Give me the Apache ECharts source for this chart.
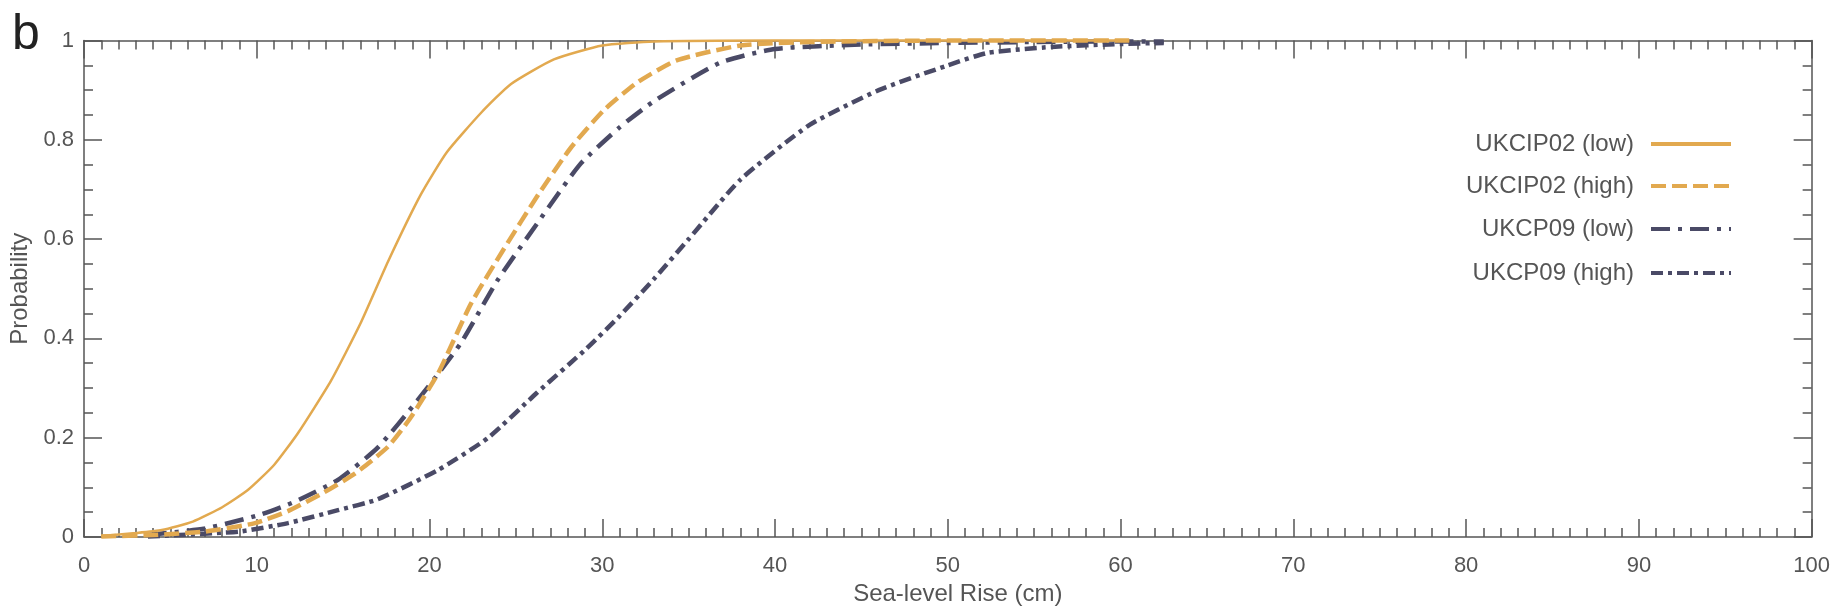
<!DOCTYPE html>
<html>
<head>
<meta charset="utf-8">
<script src="https://cdn.jsdelivr.net/npm/echarts@6/dist/echarts.min.js"></script>
<style>
html,body{margin:0;padding:0;background:#fff;}
#chart{width:1833px;height:612px;}
</style>
</head>
<body>
<div id="chart"></div>
<script>
// Sea-level rise (cm) vs cumulative probability
var ukcip02Low = [[1,0.002],[3,0.008],[4.5,0.014],[6.3,0.031],[8,0.06],[9.5,0.095],[11,0.145],[12.4,0.21],[14.3,0.315],[16,0.43],[17.6,0.555],[19.5,0.69],[21,0.775],[23,0.855],[24.7,0.912],[27.2,0.962],[30,0.99],[33,0.998],[40,1],[50,1],[60.5,1]];
var ukcip02High = [[1,0.001],[4,0.004],[7,0.011],[9.9,0.028],[11.8,0.052],[13.8,0.088],[15.7,0.128],[17.6,0.182],[18.9,0.24],[20.5,0.33],[22.4,0.47],[24.3,0.58],[26.3,0.69],[28.2,0.785],[30.1,0.86],[32,0.915],[34.3,0.96],[38,0.99],[42,0.997],[50,1],[60.5,1]];
var ukcp09Low = [[3.7,0.004],[7,0.017],[10.1,0.044],[12.2,0.071],[14.7,0.115],[17,0.18],[19.3,0.275],[21.8,0.39],[23.9,0.515],[26.2,0.63],[28.7,0.75],[31,0.825],[33,0.878],[36.8,0.955],[40,0.983],[45,0.992],[50,0.995],[55,0.997],[60,0.998],[62.5,0.998]];
var ukcp09High = [[3.7,0.001],[9,0.011],[11.8,0.028],[14.7,0.054],[17,0.076],[20.5,0.135],[23.4,0.2],[26.2,0.29],[29.1,0.38],[31,0.445],[33,0.52],[35,0.6],[38,0.72],[42,0.83],[46,0.9],[50,0.95],[52.3,0.975],[56,0.987],[60,0.993],[62.5,0.995]];
var seriesNames = ['UKCIP02 (low)','UKCIP02 (high)','UKCP09 (low)','UKCP09 (high)'];
var xTitle = 'Sea-level Rise (cm)';
var yTitle = 'Probability';
var panelLabel = 'b';

var ORANGE = '#E2A94F';
var DARK = '#4A4A66';
var AX = '#555555';
var FONT = 'Liberation Sans, Arial, Helvetica, sans-serif';

var chart = echarts.init(document.getElementById('chart'), null, {renderer:'canvas'});

function axisCommon(showLabel){
  return {
    axisLine:{show:true, onZero:false, lineStyle:{color:AX, width:1.5}},
    axisTick:{show:true, inside:true, length:18, lineStyle:{color:AX, width:1.5}},
    minorTick:{show:true, length:9, lineStyle:{color:AX, width:1.5}},
    splitLine:{show:false},
    minorSplitLine:{show:false},
    axisLabel:{show:showLabel, fontSize:22, color:AX, fontFamily:FONT}
  };
}

var xb = Object.assign(axisCommon(true), {type:'value', min:0, max:100, interval:10, position:'bottom',
  name:xTitle, nameLocation:'middle', nameGap:43,
  nameTextStyle:{fontSize:24, color:AX, fontFamily:FONT, padding:[0,0,0,20]}});
xb.axisLabel.margin = 18;
xb.minorTick.splitNumber = 10;
var xt = Object.assign(axisCommon(false), {type:'value', min:0, max:100, interval:10, position:'top'});
xt.minorTick.splitNumber = 10;
var yl = Object.assign(axisCommon(true), {type:'value', min:0, max:1, interval:0.2, position:'left',
  name:yTitle, nameLocation:'middle', nameGap:52, nameRotate:90,
  nameTextStyle:{fontSize:24, color:AX, fontFamily:FONT}});
yl.axisLabel.margin = 10;
yl.minorTick.splitNumber = 4;
var yr = Object.assign(axisCommon(false), {type:'value', min:0, max:1, interval:0.2, position:'right'});
yr.minorTick.splitNumber = 4;

var styles = [
  {color:ORANGE, width:2.5, type:'solid'},
  {color:ORANGE, width:4.5, type:[15,6]},
  {color:DARK, width:4.5, type:[19,8,4,8]},
  {color:DARK, width:4.5, type:[12,5,4,5]}
];
var datas = [ukcip02Low, ukcip02High, ukcp09Low, ukcp09High];
var rowTops = [132, 174, 217, 261];

var series = datas.map(function(d,i){
  return {name:seriesNames[i], type:'line', data:d, xAxisIndex:0, yAxisIndex:0,
    symbol:'none', showSymbol:false, smooth:0.18, clip:false,
    itemStyle:{color:styles[i].color},
    lineStyle:Object.assign({cap:'butt'}, styles[i]), z:10-i};
});

var legends = seriesNames.map(function(n,i){
  return {data:[n], right:100, top:rowTops[i], orient:'vertical', align:'right', padding:0,
    itemWidth:80, itemHeight:14, selectedMode:false,
    itemStyle:{opacity:0},
    lineStyle:{color:styles[i].color, width:4, type:styles[i].type, cap:'butt'},
    textStyle:{fontSize:24, color:AX, fontFamily:FONT, padding:[0,12,0,0], lineHeight:24}};
});

chart.setOption({
  animation:false,
  backgroundColor:'#fff',
  title:{text:panelLabel, left:12, top:10, padding:0, textStyle:{fontSize:50, fontWeight:'normal', color:'#222', fontFamily:FONT}},
  grid:{left:78, right:20, top:40.5, bottom:75, containLabel:false},
  xAxis:[xb, xt],
  yAxis:[yl, yr],
  legend:legends,
  series:series
});
</script>
</body>
</html>
